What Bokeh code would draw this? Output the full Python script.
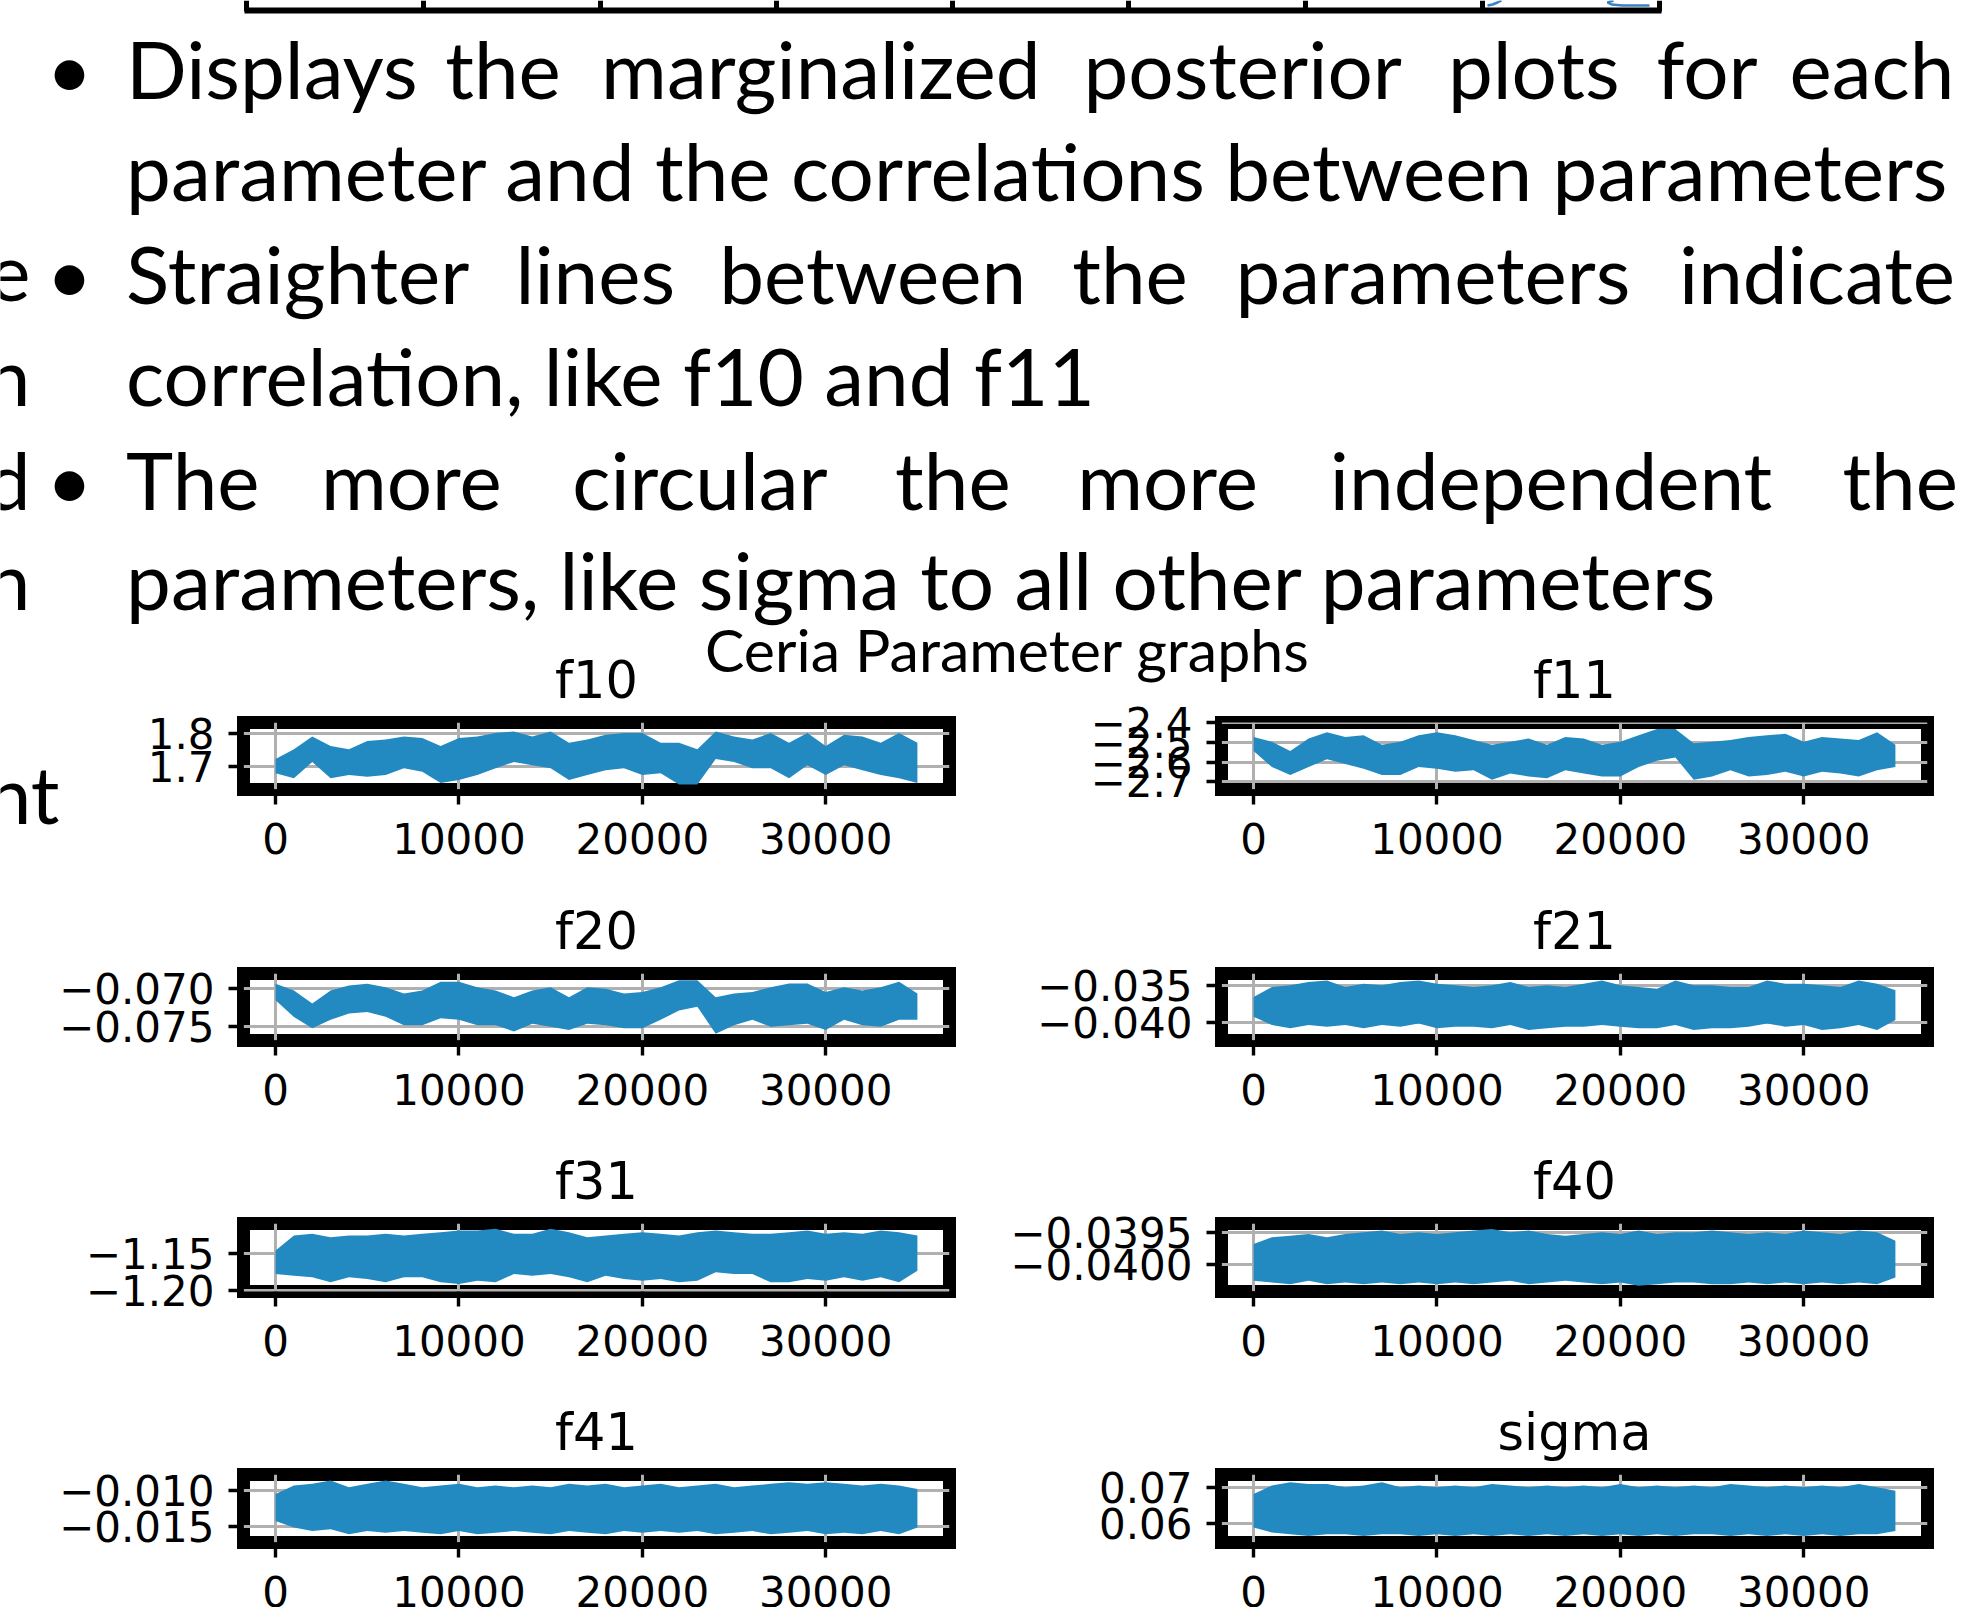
from bokeh.plotting import figure
from bokeh.models import Range1d, FixedTicker
from bokeh.layouts import column, row
from bokeh.embed import file_html
from bokeh.resources import INLINE
from bokeh.core.properties import value

# ---------------- data (envelope of each MCMC trace) -------------
iters = list(range(0, 35001, 1000))   # iteration positions at which the band was read

f10_hi = [1.722,1.751,1.790,1.761,1.751,1.776,1.781,1.790,1.785,1.761,1.785,1.790,1.800,1.805,1.790,1.805,1.771,1.781,1.795,1.800,1.800,1.771,1.771,1.751,1.805,1.790,1.781,1.800,1.771,1.800,1.761,1.795,1.790,1.771,1.800,1.771]
f10_lo = [1.679,1.664,1.713,1.664,1.674,1.669,1.674,1.694,1.684,1.650,1.659,1.674,1.694,1.713,1.703,1.694,1.659,1.674,1.688,1.694,1.674,1.679,1.645,1.645,1.722,1.713,1.694,1.694,1.664,1.703,1.674,1.703,1.688,1.674,1.664,1.650]

f11_hi = [-2.472,-2.496,-2.544,-2.480,-2.448,-2.472,-2.464,-2.512,-2.496,-2.464,-2.448,-2.464,-2.488,-2.512,-2.496,-2.480,-2.512,-2.472,-2.480,-2.512,-2.496,-2.464,-2.432,-2.432,-2.504,-2.496,-2.488,-2.472,-2.464,-2.456,-2.496,-2.472,-2.480,-2.488,-2.448,-2.512]
f11_lo = [-2.544,-2.625,-2.665,-2.625,-2.585,-2.609,-2.633,-2.665,-2.665,-2.625,-2.633,-2.649,-2.641,-2.689,-2.657,-2.673,-2.681,-2.641,-2.657,-2.673,-2.673,-2.625,-2.593,-2.576,-2.689,-2.673,-2.641,-2.673,-2.665,-2.649,-2.673,-2.649,-2.657,-2.673,-2.641,-2.625]

f20_hi = [-0.06944,-0.0703,-0.0720,-0.0703,-0.06966,-0.06944,-0.0699,-0.0707,-0.0703,-0.0692,-0.0692,-0.0699,-0.0703,-0.0712,-0.0703,-0.0699,-0.0712,-0.0699,-0.0701,-0.0707,-0.0705,-0.0699,-0.0690,-0.0690,-0.0712,-0.0707,-0.0705,-0.0699,-0.0694,-0.0694,-0.0705,-0.0699,-0.0703,-0.0699,-0.0692,-0.0707]
f20_lo = [-0.07158,-0.07372,-0.0752,-0.0741,-0.0733,-0.0731,-0.0737,-0.0748,-0.0748,-0.0739,-0.0741,-0.0748,-0.0748,-0.0756,-0.0746,-0.0750,-0.0754,-0.0746,-0.0748,-0.0752,-0.0752,-0.0741,-0.0729,-0.0724,-0.0759,-0.0748,-0.0741,-0.0750,-0.0748,-0.0746,-0.0754,-0.0741,-0.0748,-0.0750,-0.0741,-0.0741]

f21_hi = [-0.03656,-0.03522,-0.0350,-0.03455,-0.03433,-0.03522,-0.03478,-0.0350,-0.03455,-0.03433,-0.03478,-0.0350,-0.03522,-0.0350,-0.03455,-0.03522,-0.0350,-0.03522,-0.03478,-0.03433,-0.0350,-0.03522,-0.03545,-0.03433,-0.0350,-0.0350,-0.03522,-0.03522,-0.03433,-0.03478,-0.03478,-0.0350,-0.03522,-0.03433,-0.03478,-0.03567]
f21_lo = [-0.03924,-0.04036,-0.04080,-0.04036,-0.04058,-0.04036,-0.04080,-0.04036,-0.04058,-0.04013,-0.04080,-0.04058,-0.04058,-0.04080,-0.04036,-0.04103,-0.04080,-0.04058,-0.04058,-0.04036,-0.04058,-0.04080,-0.04080,-0.04036,-0.04103,-0.04080,-0.04080,-0.04058,-0.04013,-0.04058,-0.04036,-0.04103,-0.04080,-0.04036,-0.04103,-0.03969]

f31_hi = [-1.1455,-1.125,-1.1227,-1.1273,-1.125,-1.125,-1.1227,-1.125,-1.1227,-1.1205,-1.1182,-1.1182,-1.1159,-1.1227,-1.1227,-1.1159,-1.1205,-1.1273,-1.125,-1.1227,-1.1205,-1.1227,-1.125,-1.1205,-1.1182,-1.1205,-1.1227,-1.1227,-1.1205,-1.1182,-1.1227,-1.1205,-1.1227,-1.1182,-1.1205,-1.125]
f31_lo = [-1.1773,-1.1795,-1.1818,-1.1886,-1.1818,-1.1841,-1.1886,-1.1818,-1.1818,-1.1886,-1.1909,-1.1864,-1.1886,-1.1773,-1.1795,-1.1773,-1.1818,-1.1886,-1.1795,-1.1841,-1.1864,-1.1841,-1.1886,-1.1864,-1.175,-1.1773,-1.1773,-1.1886,-1.1886,-1.1841,-1.1864,-1.1818,-1.1864,-1.1818,-1.1886,-1.1727]

f40_hi = [-0.03968,-0.039577,-0.039552,-0.039526,-0.039577,-0.039526,-0.0395,-0.039474,-0.039526,-0.0395,-0.039526,-0.0395,-0.039474,-0.039448,-0.0395,-0.039474,-0.039526,-0.039552,-0.039526,-0.0395,-0.039526,-0.039474,-0.039526,-0.0395,-0.0395,-0.039474,-0.0395,-0.039526,-0.0395,-0.039526,-0.039474,-0.0395,-0.039526,-0.039474,-0.0395,-0.039629]
f40_lo = [-0.040247,-0.040273,-0.040299,-0.040247,-0.040299,-0.040273,-0.040299,-0.040273,-0.040299,-0.040273,-0.040299,-0.040273,-0.040299,-0.040273,-0.040247,-0.040299,-0.040273,-0.040247,-0.040273,-0.040299,-0.040273,-0.040325,-0.040299,-0.040273,-0.040273,-0.040299,-0.040299,-0.040273,-0.040299,-0.040273,-0.040299,-0.040273,-0.040299,-0.040273,-0.040299,-0.040196]

f41_hi = [-0.01046,-0.00931,-0.00907,-0.00861,-0.00954,-0.00907,-0.00861,-0.00907,-0.00954,-0.00931,-0.00907,-0.00954,-0.00931,-0.00954,-0.00931,-0.00954,-0.00907,-0.00931,-0.00907,-0.00954,-0.00931,-0.00907,-0.00954,-0.00931,-0.00907,-0.00954,-0.00931,-0.00907,-0.00884,-0.00907,-0.00884,-0.00907,-0.00931,-0.00907,-0.00931,-0.00977]
f41_lo = [-0.01417,-0.01509,-0.01556,-0.01532,-0.01602,-0.01556,-0.01579,-0.01556,-0.01579,-0.01602,-0.01556,-0.01602,-0.01579,-0.01556,-0.01579,-0.01602,-0.01556,-0.01579,-0.01602,-0.01556,-0.01579,-0.01556,-0.01579,-0.01556,-0.01602,-0.01579,-0.01556,-0.01602,-0.01579,-0.01556,-0.01602,-0.01579,-0.01602,-0.01556,-0.01602,-0.01509]

sigma_hi = [0.0683,0.0707,0.0716,0.0711,0.0711,0.0702,0.0707,0.0716,0.0702,0.0707,0.0702,0.0707,0.0702,0.0711,0.0707,0.0702,0.0707,0.0702,0.0707,0.0702,0.0711,0.0702,0.0707,0.0702,0.0707,0.0702,0.0711,0.0707,0.0702,0.0707,0.0702,0.0707,0.0702,0.0711,0.0702,0.0692]
sigma_lo = [0.0589,0.0575,0.0570,0.0565,0.0570,0.0570,0.0565,0.0570,0.0570,0.0565,0.0570,0.0565,0.0570,0.0565,0.0570,0.0565,0.0570,0.0565,0.0570,0.0565,0.0570,0.0565,0.0570,0.0565,0.0570,0.0570,0.0565,0.0570,0.0565,0.0570,0.0565,0.0570,0.0565,0.0570,0.0570,0.0579]

param_names = ["f10", "f11", "f20", "f21", "f31", "f40", "f41", "sigma"]
traces = {"f10": (f10_lo, f10_hi), "f11": (f11_lo, f11_hi), "f20": (f20_lo, f20_hi),
          "f21": (f21_lo, f21_hi), "f31": (f31_lo, f31_hi), "f40": (f40_lo, f40_hi),
          "f41": (f41_lo, f41_hi), "sigma": (sigma_lo, sigma_hi)}

y_limits = {"f10": (1.6303, 1.8318), "f11": (-2.7385, -2.3990), "f20": (-0.07677, -0.06812),
            "f21": (-0.04244, -0.0334), "f31": (-1.2010, -1.1087), "f40": (-0.040412, -0.039365),
            "f41": (-0.01714, -0.00778), "sigma": (0.0547, 0.07377)}
y_ticks = {"f10": [1.7, 1.8], "f11": [-2.7, -2.6, -2.5, -2.4], "f20": [-0.075, -0.070],
           "f21": [-0.040, -0.035], "f31": [-1.20, -1.15], "f40": [-0.0400, -0.0395],
           "f41": [-0.015, -0.010], "sigma": [0.06, 0.07]}
y_tick_labels = {"f10": ["1.7", "1.8"], "f11": ["\u22122.7", "\u22122.6", "\u22122.5", "\u22122.4"],
                 "f20": ["\u22120.075", "\u22120.070"], "f21": ["\u22120.040", "\u22120.035"],
                 "f31": ["\u22121.20", "\u22121.15"], "f40": ["\u22120.0400", "\u22120.0395"],
                 "f41": ["\u22120.015", "\u22120.010"], "sigma": ["0.06", "0.07"]}
x_ticks = [0, 10000, 20000, 30000]
x_tick_labels = ["0", "10000", "20000", "30000"]
x_limits = (-1750, 36750)

suptitle = "Ceria Parameter graphs"
bullet_lines = [
    ["Displays", "the", "marginalized", "posterior", "plots", "for", "each"],
    ["parameter and the correlations between parameters"],
    ["Straighter", "lines", "between", "the", "parameters", "indicate"],
    ["correlation, like f10 and f11"],
    ["The", "more", "circular", "the", "more", "independent", "the"],
    ["parameters, like sigma to all other parameters"],
]
left_fragments = ["e", "n", "d", "n", "nt"]

# ---------------- styling / layout constants (page pixels) ----------------
BLUE = "#2389c1"
SLIDE_FONT = "Lato"
MPL_FONT = "DejaVu Sans"
PAGE_W, PAGE_H = 1970, 1607
SLIDE_PX = 80
SLIDE_SHIFT = 32      # renderer places these text anchors ~0.4em below the baseline
TITLE_PX = 59
TITLE_SHIFT = 21

word_x = [
    [125.6, 444.8, 600.6, 1083, 1447.4, 1656, 1789.1],
    [125.6],
    [125.6, 515, 718.7, 1071.7, 1235, 1678.5],
    [125.6],
    [125.6, 320.4, 571.7, 894.6, 1076.7, 1329.3, 1841.9],
    [125.6],
]
line_base = [99, 201, 304, 406, 510, 610]
bullet_rows = [0, 2, 4]
frag_base = [304, 406, 510, 610, 824]
frag_right = [30, 30, 30, 30, 59]

HEAD_H = 840
header = figure(width=PAGE_W, height=HEAD_H, x_range=Range1d(0, PAGE_W), y_range=Range1d(HEAD_H, 0),
                toolbar_location=None, output_backend="svg", min_border=0,
                x_axis_location=None, y_axis_location=None)
header.grid.visible = False
header.outline_line_color = None

# bottom edge of the table that sits above the bullets (with the clipped picture in its last cell)
table_x = [246, 423, 600, 776, 952, 1128, 1305, 1482, 1659]
header.segment(x0=table_x, y0=[0] * len(table_x), x1=table_x, y1=[11] * len(table_x),
               line_color="black", line_width=5)
header.segment(x0=[table_x[0] - 2], y0=[10], x1=[table_x[-1] + 2], y1=[10], line_color="black", line_width=6)
header.multi_line(xs=[[1487, 1492, 1497, 1501], [1613, 1607, 1611, 1622, 1649]],
                  ys=[[5, 4, 2, 0], [0, 2, 4, 5, 5]], line_color="#3b82c4", line_width=2.5)

wx, wy, wt = [], [], []
for li, words in enumerate(bullet_lines):
    for wi, w in enumerate(words):
        wx.append(word_x[li][wi]); wy.append(line_base[li] - SLIDE_SHIFT); wt.append(w)
header.text(x=wx, y=wy, text=wt, text_font=value(SLIDE_FONT), text_font_size=f"{SLIDE_PX}px",
            text_baseline="alphabetic", text_align="left", text_color="black")
header.text(x=[69] * len(bullet_rows), y=[line_base[i] - SLIDE_SHIFT for i in bullet_rows],
            text=["\u2022"] * len(bullet_rows), text_font=value(SLIDE_FONT), text_font_size=f"{SLIDE_PX}px",
            text_baseline="alphabetic", text_align="center", text_color="black")
header.text(x=frag_right, y=[b - SLIDE_SHIFT for b in frag_base], text=left_fragments, text_font=value(SLIDE_FONT),
            text_font_size=f"{SLIDE_PX}px", text_baseline="alphabetic", text_align="right", text_color="black")
header.text(x=[1007], y=[670 - TITLE_SHIFT], text=[suptitle], text_font=value(SLIDE_FONT),
            text_font_size=f"{TITLE_PX}px", text_baseline="alphabetic", text_align="center", text_color="black")

ROW_TOP = [636, 887, 1137, 1388]
FRAME_H = [67, 67, 68, 68]
ROW_H = [251, 250, 251, 251]
BORDER_TOP = 86


def make_trace(name, r, c):
    lo, hi = traces[name]
    p = figure(frame_width=706, frame_height=FRAME_H[r], x_range=Range1d(*x_limits),
               y_range=Range1d(*y_limits[name]), toolbar_location=None, output_backend="svg", title=name,
               min_border_left=243 if c == 0 else 236, min_border_right=36 if c == 0 else 43,
               min_border_top=BORDER_TOP, min_border_bottom=ROW_H[r] - BORDER_TOP - FRAME_H[r])
    p.border_fill_color = None
    p.background_fill_color = "white"
    p.outline_line_color = "black"
    p.outline_line_width = 13
    p.outline_line_join = "miter"
    p.varea(x=iters, y1=lo, y2=hi, fill_color=BLUE)
    p.title.text_font = MPL_FONT
    p.title.text_font_size = "51px"
    p.title.text_font_style = "normal"
    p.title.text_color = "black"
    p.title.align = "center"
    p.title.standoff = 25
    p.xaxis.ticker = FixedTicker(ticks=x_ticks)
    p.xaxis.major_label_overrides = dict(zip(x_ticks, x_tick_labels))
    p.yaxis.ticker = FixedTicker(ticks=y_ticks[name])
    p.yaxis.major_label_overrides = dict(zip(y_ticks[name], y_tick_labels[name]))
    for ax in (p.xaxis[0], p.yaxis[0]):
        ax.axis_line_color = None
        ax.major_tick_out = 15
        ax.major_tick_in = 0
        ax.major_tick_line_width = 3.4
        ax.major_tick_line_color = "black"
        ax.minor_tick_line_color = None
        ax.major_label_text_font = MPL_FONT
        ax.major_label_text_font_size = "42px"
        ax.major_label_text_color = "black"
    p.xaxis.major_label_standoff = 18
    p.yaxis.major_label_standoff = 14
    p.grid.grid_line_color = "#b0b0b0"
    p.grid.grid_line_width = 3
    return p


figs = [make_trace(n, i // 2, i % 2) for i, n in enumerate(param_names)]
rows = []
for r in range(4):
    rw = row(figs[2 * r], figs[2 * r + 1], spacing=0)
    if r == 0:
        rw.margin = (ROW_TOP[0] - HEAD_H, 0, 0, 0)
    rows.append(rw)

layout = column(header, *rows, spacing=0, width=PAGE_W, height=PAGE_H, styles={"overflow": "hidden"})
open("out.html", "w").write(file_html(layout, INLINE))
